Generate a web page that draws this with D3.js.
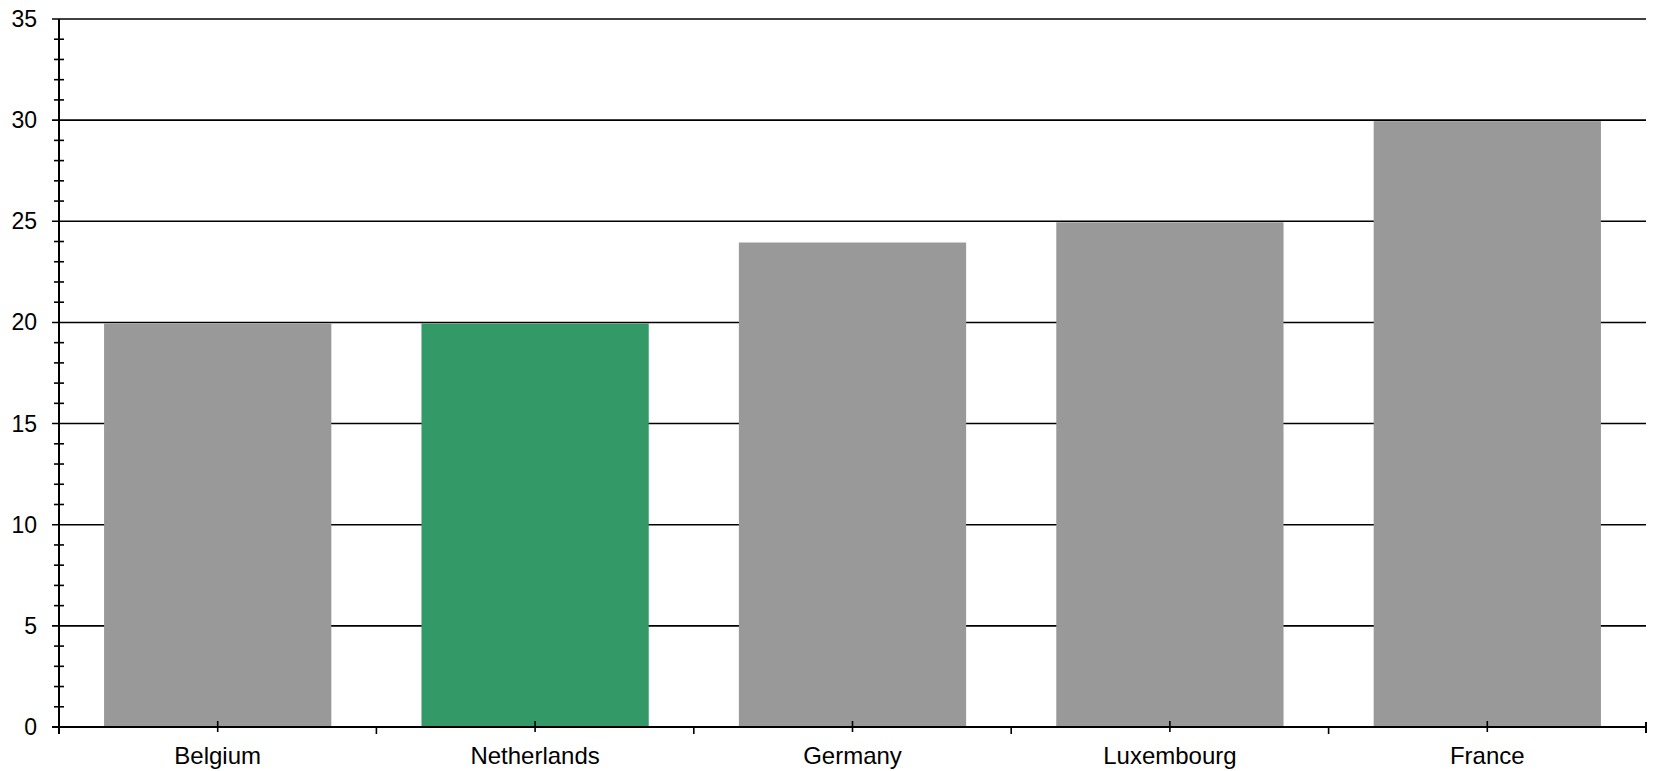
<!DOCTYPE html>
<html>
<head>
<meta charset="utf-8">
<script src="https://cdn.jsdelivr.net/npm/d3@7"></script>
<style>
  html, body { margin: 0; padding: 0; background: #ffffff; }
  svg { display: block; }
  text { font-family: "Liberation Sans", Arial, sans-serif; fill: #000; }
</style>
</head>
<body>
<svg id="chart" width="1656" height="771"></svg>
<script>
const categories = ["Belgium", "Netherlands", "Germany", "Luxembourg", "France"];
const values = [20, 20, 24, 25, 30];
const barColors = ["#999999", "#339966", "#999999", "#999999", "#999999"];
const yTicks = [0, 5, 10, 15, 20, 25, 30, 35];
const yMinorTicks = d3.range(0, 36, 1);

(function () {
const svg = d3.select("#chart");
const pLeft = 59, pRight = 1646, pTop = 19, pBottom = 727;

const x = d3.scaleBand().domain(categories).range([pLeft, pRight]).padding(0);
const y = d3.scaleLinear().domain([0, 35]).range([pBottom, pTop]);
const barW = x.bandwidth() * 0.716;

// gridlines
svg.append("g").selectAll("line")
  .data(yTicks.filter(d => d > 0))
  .join("line")
  .attr("x1", pLeft - 7).attr("x2", pRight)
  .attr("y1", d => y(d)).attr("y2", d => y(d))
  .attr("stroke", "#000").attr("stroke-width", 1.6);

// bars
svg.append("g").selectAll("rect")
  .data(categories)
  .join("rect")
  .attr("x", d => x(d) + (x.bandwidth() - barW) / 2)
  .attr("width", barW)
  .attr("y", (d, i) => y(values[i]) + 1)
  .attr("height", (d, i) => y(0) - y(values[i]) - 1)
  .attr("fill", (d, i) => barColors[i]);

// y axis line
svg.append("line")
  .attr("x1", pLeft).attr("x2", pLeft)
  .attr("y1", pTop).attr("y2", pBottom + 7)
  .attr("stroke", "#000").attr("stroke-width", 2);

// minor ticks
svg.append("g").selectAll("line")
  .data(yMinorTicks.filter(d => d % 5 !== 0))
  .join("line")
  .attr("x1", pLeft - 5).attr("x2", pLeft + 5)
  .attr("y1", d => y(d)).attr("y2", d => y(d))
  .attr("stroke", "#000").attr("stroke-width", 1.6);

// major tick at 0
svg.append("line")
  .attr("x1", pLeft - 7).attr("x2", pLeft)
  .attr("y1", y(0)).attr("y2", y(0))
  .attr("stroke", "#000").attr("stroke-width", 2);

// y labels
svg.append("g").selectAll("text")
  .data(yTicks)
  .join("text")
  .attr("x", 37)
  .attr("y", d => y(d))
  .attr("dy", "0.35em")
  .attr("text-anchor", "end")
  .attr("font-size", 23)
  .text(d => d);

// x axis line
svg.append("line")
  .attr("x1", pLeft).attr("x2", pRight)
  .attr("y1", pBottom).attr("y2", pBottom)
  .attr("stroke", "#000").attr("stroke-width", 2);

// center ticks
svg.append("g").selectAll("line")
  .data(categories)
  .join("line")
  .attr("x1", d => x(d) + x.bandwidth() / 2).attr("x2", d => x(d) + x.bandwidth() / 2)
  .attr("y1", pBottom - 6).attr("y2", pBottom + 5)
  .attr("stroke", "#000").attr("stroke-width", 1.6);

// boundary ticks
const bounds = categories.slice(1).map(d => x(d));
svg.append("g").selectAll("line")
  .data(bounds)
  .join("line")
  .attr("x1", d => d).attr("x2", d => d)
  .attr("y1", pBottom).attr("y2", pBottom + 7)
  .attr("stroke", "#000").attr("stroke-width", 1.6);

// end tick
svg.append("line")
  .attr("x1", pRight).attr("x2", pRight)
  .attr("y1", pBottom - 5).attr("y2", pBottom + 6)
  .attr("stroke", "#000").attr("stroke-width", 2);

// x labels
svg.append("g").selectAll("text")
  .data(categories)
  .join("text")
  .attr("x", d => x(d) + x.bandwidth() / 2)
  .attr("y", 764)
  .attr("text-anchor", "middle")
  .attr("font-size", 24)
  .text(d => d);
})();
</script>
</body>
</html>
